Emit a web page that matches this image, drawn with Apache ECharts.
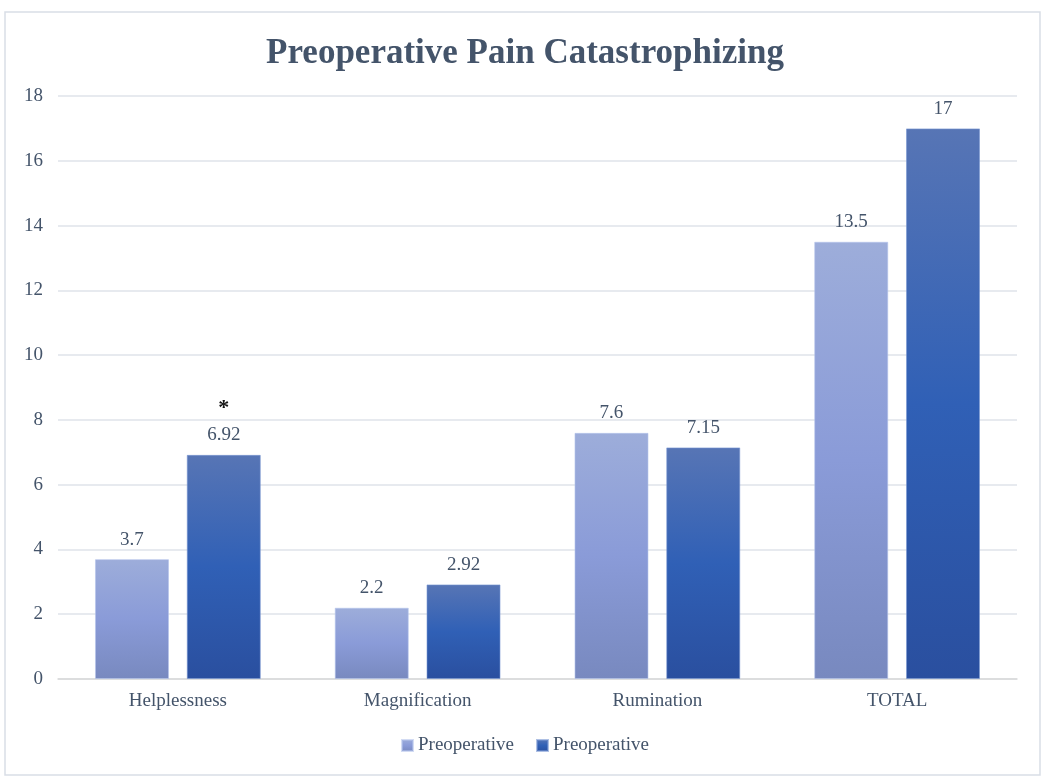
<!DOCTYPE html>
<html><head><meta charset="utf-8">
<script src="https://cdn.jsdelivr.net/npm/echarts@6/dist/echarts.min.js"></script>
<style>html,body{margin:0;padding:0;background:#fff}#c{width:1050px;height:783px}</style>
</head><body><div id="c"></div>
<script>
var categories = ['Helplessness', 'Magnification', 'Rumination', 'TOTAL'];
var seriesNames = ['Preoperative', 'Preoperative'];
var lightValues = [3.7, 2.2, 7.6, 13.5];
var darkValues = [6.92, 2.92, 7.15, 17];
var starred = [true, false, false, false]; // asterisk markers on dark series
var yTicks = { min: 0, max: 18, interval: 2 };

var font = '"Liberation Serif", "Times New Roman", serif';
var textColor = '#44546a';

var chart = echarts.init(document.getElementById('c'));
chart.setOption({
  animation: false,
  backgroundColor: '#fff',
  title: {
    text: 'Preoperative Pain Catastrophizing',
    left: 'center', top: 31,
    textStyle: { fontFamily: font, fontWeight: 'bold', fontSize: 35, color: textColor }
  },
  graphic: [{
    type: 'rect', shape: { x: 5, y: 12, width: 1035, height: 763 },
    style: { fill: 'none', stroke: '#d9dee6', lineWidth: 1.5 }, silent: true, z: -1
  }],
  legend: {
    bottom: 23, left: 'center', itemWidth: 11, itemHeight: 11, itemGap: 22,
    textStyle: { fontFamily: font, fontSize: 19, color: textColor },
    data: [{ name: 'a', icon: 'rect' }, { name: 'b', icon: 'rect' }],
    formatter: function (n) { return n === 'a' ? seriesNames[0] : seriesNames[1]; }
  },
  grid: { left: 58, right: 33, top: 96, bottom: 104 },
  xAxis: {
    type: 'category', data: categories,
    axisLine: { lineStyle: { color: '#d9d9d9', width: 1.5 } },
    axisTick: { show: false },
    axisLabel: { fontFamily: font, fontSize: 19, color: textColor, margin: 13 }
  },
  yAxis: {
    type: 'value', min: yTicks.min, max: yTicks.max, interval: yTicks.interval,
    axisLine: { show: false }, axisTick: { show: false },
    splitLine: { lineStyle: { color: '#dfe3ea', width: 1.5 } },
    axisLabel: { fontFamily: font, fontSize: 19, color: textColor, margin: 15 }
  },
  series: [{
    name: 'a', type: 'bar', data: lightValues,
    barWidth: 74, barGap: '24%',
    itemStyle: {
      color: new echarts.graphic.LinearGradient(0, 0, 0, 1, [
        { offset: 0, color: '#9dadda' }, { offset: 0.5, color: '#8a9bd8' }, { offset: 1, color: '#7889bf' }
      ]),
      borderColor: 'rgba(180,195,235,0.6)', borderWidth: 1
    },
    label: { show: true, position: 'top', distance: 10, fontFamily: font, fontSize: 19, color: textColor }
  }, {
    name: 'b', type: 'bar',
    data: darkValues,
    barWidth: 74,
    itemStyle: {
      color: new echarts.graphic.LinearGradient(0, 0, 0, 1, [
        { offset: 0, color: '#5775b5' }, { offset: 0.5, color: '#3060b6' }, { offset: 1, color: '#2a4f9f' }
      ]),
      borderColor: 'rgba(120,150,210,0.6)', borderWidth: 1
    },
    label: {
      show: true, position: 'top', distance: 10, fontFamily: font, fontSize: 19, color: textColor,
      formatter: function (p) {
        return starred[p.dataIndex] ? '{s|*}\n' + p.value : '' + p.value;
      },
      rich: { s: { fontFamily: font, fontSize: 22, fontWeight: 'bold', color: '#111', lineHeight: 36 } }
    }
  }]
});
</script></body></html>
